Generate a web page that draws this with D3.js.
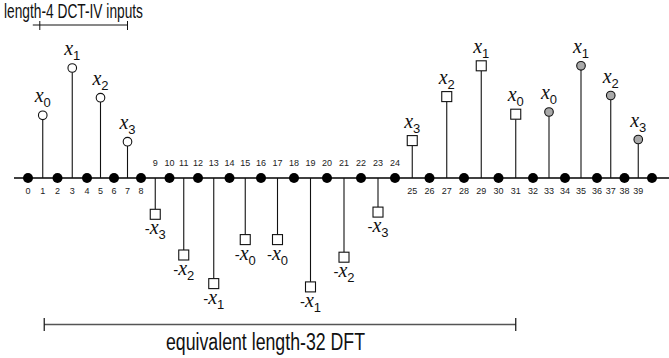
<!DOCTYPE html>
<html>
<head>
<meta charset="utf-8">
<script src="https://cdn.jsdelivr.net/npm/d3@7"></script>
<style>
  html, body { margin: 0; padding: 0; background: #fff; }
  svg { display: block; }
</style>
</head>
<body>
<svg id="chart" width="669" height="358"></svg>
<script>
// ---- data ----
const dotIdx = [0,2,4,6,8,10,12,14,16,18,20,22,24,26,28,30,32,34,36,38,40];
const tickLabels = [0,1,2,3,4,5,6,7,8,9,10,11,12,13,14,15,16,17,18,19,20,21,22,23,24,25,26,27,28,29,30,31,32,33,34,35,36,37,38,39];
const stemIdx = [1,3,5,7,9,11,13,15,17,19,21,23,25,27,29,31,33,35,37,39];
const stemVal = [0.57,1.00,0.73,0.33,-0.33,-0.70,-0.96,-0.56,-0.56,-0.99,-0.72,-0.31,0.34,0.74,1.02,0.58,0.60,1.02,0.75,0.35];
const stemSub = [0,1,2,3,3,2,1,0,0,1,2,3,3,2,1,0,0,1,2,3];
const stemKind = ["input","input","input","input",
  "dft","dft","dft","dft","dft","dft","dft","dft","dft","dft","dft","dft",
  "next","next","next","next"];
const topTitle = "length-4 DCT-IV inputs";
const bottomTitle = "equivalent length-32 DFT";
const topBracketIdx = [0.8, 7];
const bottomBracketIdx = [1.1, 31];

// ---- layout ----
const svg = d3.select("#chart");
const axisY = 178;
const x = d3.scaleLinear()
  .domain([0,4,8,12,16,20,24,28,32,36,40])
  .range([28,87,141,198,261,327,395,464,533,597,652]);
const y = d3.scaleLinear().domain([-1, 1]).range([axisY + 110, axisY - 110]);

const sans = "'Liberation Sans', Arial, sans-serif";
const serif = "'Liberation Serif', 'Times New Roman', serif";

// axis line
svg.append("line")
  .attr("x1", 14).attr("x2", 669).attr("y1", axisY).attr("y2", axisY)
  .attr("stroke", "#000").attr("stroke-width", 1.6);

const stems = stemIdx.map((d, i) => ({ idx: d, v: stemVal[i], sub: stemSub[i], kind: stemKind[i] }));
const R = 4.3, S = 10;

// stems
svg.selectAll("line.stem").data(stems).join("line")
  .attr("class", "stem")
  .attr("x1", d => x(d.idx)).attr("x2", d => x(d.idx))
  .attr("y1", axisY)
  .attr("y2", d => {
    const h = d.kind === "dft" ? S / 2 : R;
    return d.v > 0 ? y(d.v) + h : y(d.v) - h;
  })
  .attr("stroke", "#111").attr("stroke-width", 1.1);

// markers
svg.selectAll("circle.mk").data(stems.filter(d => d.kind !== "dft")).join("circle")
  .attr("class", "mk")
  .attr("cx", d => x(d.idx)).attr("cy", d => y(d.v)).attr("r", R)
  .attr("fill", d => d.kind === "next" ? "#a9a9a9" : "#fff")
  .attr("stroke", "#111").attr("stroke-width", 1.1);

svg.selectAll("rect.mk").data(stems.filter(d => d.kind === "dft")).join("rect")
  .attr("class", "mk")
  .attr("x", d => x(d.idx) - S / 2).attr("y", d => y(d.v) - S / 2)
  .attr("width", S).attr("height", S)
  .attr("fill", "#fff").attr("stroke", "#111").attr("stroke-width", 1.1);

// black dots
svg.selectAll("circle.dot").data(dotIdx).join("circle")
  .attr("class", "dot")
  .attr("cx", d => x(d)).attr("cy", axisY).attr("r", 5)
  .attr("fill", "#000");

// index labels
svg.selectAll("text.tick").data(tickLabels).join("text")
  .attr("class", "tick")
  .attr("x", d => x(d))
  .attr("y", d => (d >= 9 && d <= 24) ? axisY - 12 : axisY + 16)
  .attr("text-anchor", "middle")
  .attr("font-family", sans).attr("font-size", 9).attr("fill", "#222")
  .text(d => d);

// value labels
stems.forEach(d => {
  const t = svg.append("text")
    .attr("x", x(d.idx))
    .attr("y", d.v > 0 ? y(d.v) - 13 : y(d.v) + 20)
    .attr("text-anchor", "middle")
    .attr("fill", "#111");
  if (d.v < 0) t.append("tspan").attr("font-family", sans).attr("font-size", 15).text("-");
  t.append("tspan").attr("font-family", serif).attr("font-style", "italic").attr("font-size", 20).text("x");
  t.append("tspan").attr("font-family", sans).attr("font-size", 13).attr("dy", 5).text(d.sub);
});

// top bracket + title
svg.append("text")
  .attr("x", 4).attr("y", 18)
  .attr("font-family", sans).attr("font-size", 20).attr("fill", "#111")
  .attr("textLength", 139).attr("lengthAdjust", "spacingAndGlyphs")
  .text(topTitle);
const tb = topBracketIdx.map(x);
svg.append("line").attr("x1", tb[0] - 7).attr("x2", tb[1]).attr("y1", 25).attr("y2", 25)
  .attr("stroke", "#111").attr("stroke-width", 1);
tb.forEach(v => svg.append("line").attr("x1", v).attr("x2", v).attr("y1", 21).attr("y2", 30)
  .attr("stroke", "#111").attr("stroke-width", 1));

// bottom bracket + title
const bb = bottomBracketIdx.map(x);
svg.append("line").attr("x1", bb[0]).attr("x2", bb[1]).attr("y1", 324.5).attr("y2", 324.5)
  .attr("stroke", "#555").attr("stroke-width", 1.6);
bb.forEach(v => svg.append("line").attr("x1", v).attr("x2", v).attr("y1", 318).attr("y2", 331)
  .attr("stroke", "#111").attr("stroke-width", 1.2));
svg.append("text")
  .attr("x", 166).attr("y", 350)
  .attr("font-family", sans).attr("font-size", 23).attr("fill", "#111")
  .attr("textLength", 199).attr("lengthAdjust", "spacingAndGlyphs")
  .text(bottomTitle);
</script>
</body>
</html>
